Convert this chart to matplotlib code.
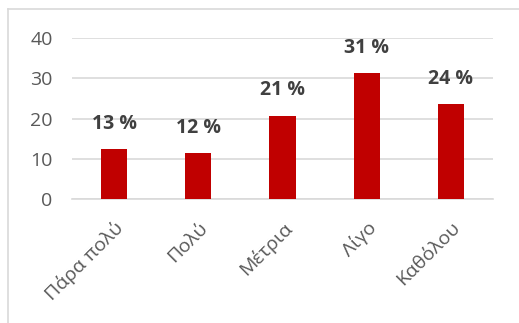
import matplotlib
matplotlib.use("Agg")
import matplotlib.pyplot as plt
from matplotlib.lines import Line2D

categories = ["Πάρα πολύ", "Πολύ", "Μέτρια", "Λίγο", "Καθόλου"]
values = [12.4, 11.4, 20.7, 31.2, 23.5]
labels = ["13 %", "12 %", "21 %", "31 %", "24 %"]
yticks = [0, 10, 20, 30, 40]

plt.rcParams['font.family'] = ['Open Sans', 'DejaVu Sans']

W, H = 519, 323
fig = plt.figure(figsize=(W / 100, H / 100), dpi=100)
ax = fig.add_axes([72 / W, 1 - 199 / H, (493 - 72) / W, (199 - 38) / H])

x = list(range(len(categories)))
ax.bar(x, values, width=0.31, color="#C00000", zorder=3)
ax.set_xlim(-0.5, len(categories) - 0.5)
ax.set_ylim(0, 40)
ax.set_yticks(yticks)
ax.set_yticklabels([str(t) for t in yticks], fontsize=14, color="#595959")
ax.yaxis.grid(True, color="#d9d9d9", linewidth=1.2, zorder=0)
ax.set_axisbelow(True)
for s in ["top", "right", "left"]:
    ax.spines[s].set_visible(False)
ax.spines["bottom"].set_color("#d9d9d9")
ax.spines["bottom"].set_linewidth(1.2)
ax.tick_params(axis="both", length=0)
ax.tick_params(axis="y", pad=14)
ax.set_xticks(x)
ax.set_xticklabels(categories, rotation=45, ha="right", va="top",
                   rotation_mode="anchor", fontsize=14, color="#595959")
ax.tick_params(axis="x", pad=14)

for xi, v, lab in zip(x, values, labels):
    ax.annotate(lab, (xi, v), xytext=(0, 11), textcoords="offset points",
                ha="center", va="bottom", fontsize=14, fontweight="bold",
                color="#404040")

# chart border (partially visible)
fig.add_artist(Line2D([8 / W, 1.0], [1 - 9 / H, 1 - 9 / H], color="#d9d9d9",
                      linewidth=1.2, transform=fig.transFigure))
fig.add_artist(Line2D([8 / W, 8 / W], [1 - 9 / H, 0.0], color="#d9d9d9",
                      linewidth=1.2, transform=fig.transFigure))

fig.savefig("out.png", dpi=100)
